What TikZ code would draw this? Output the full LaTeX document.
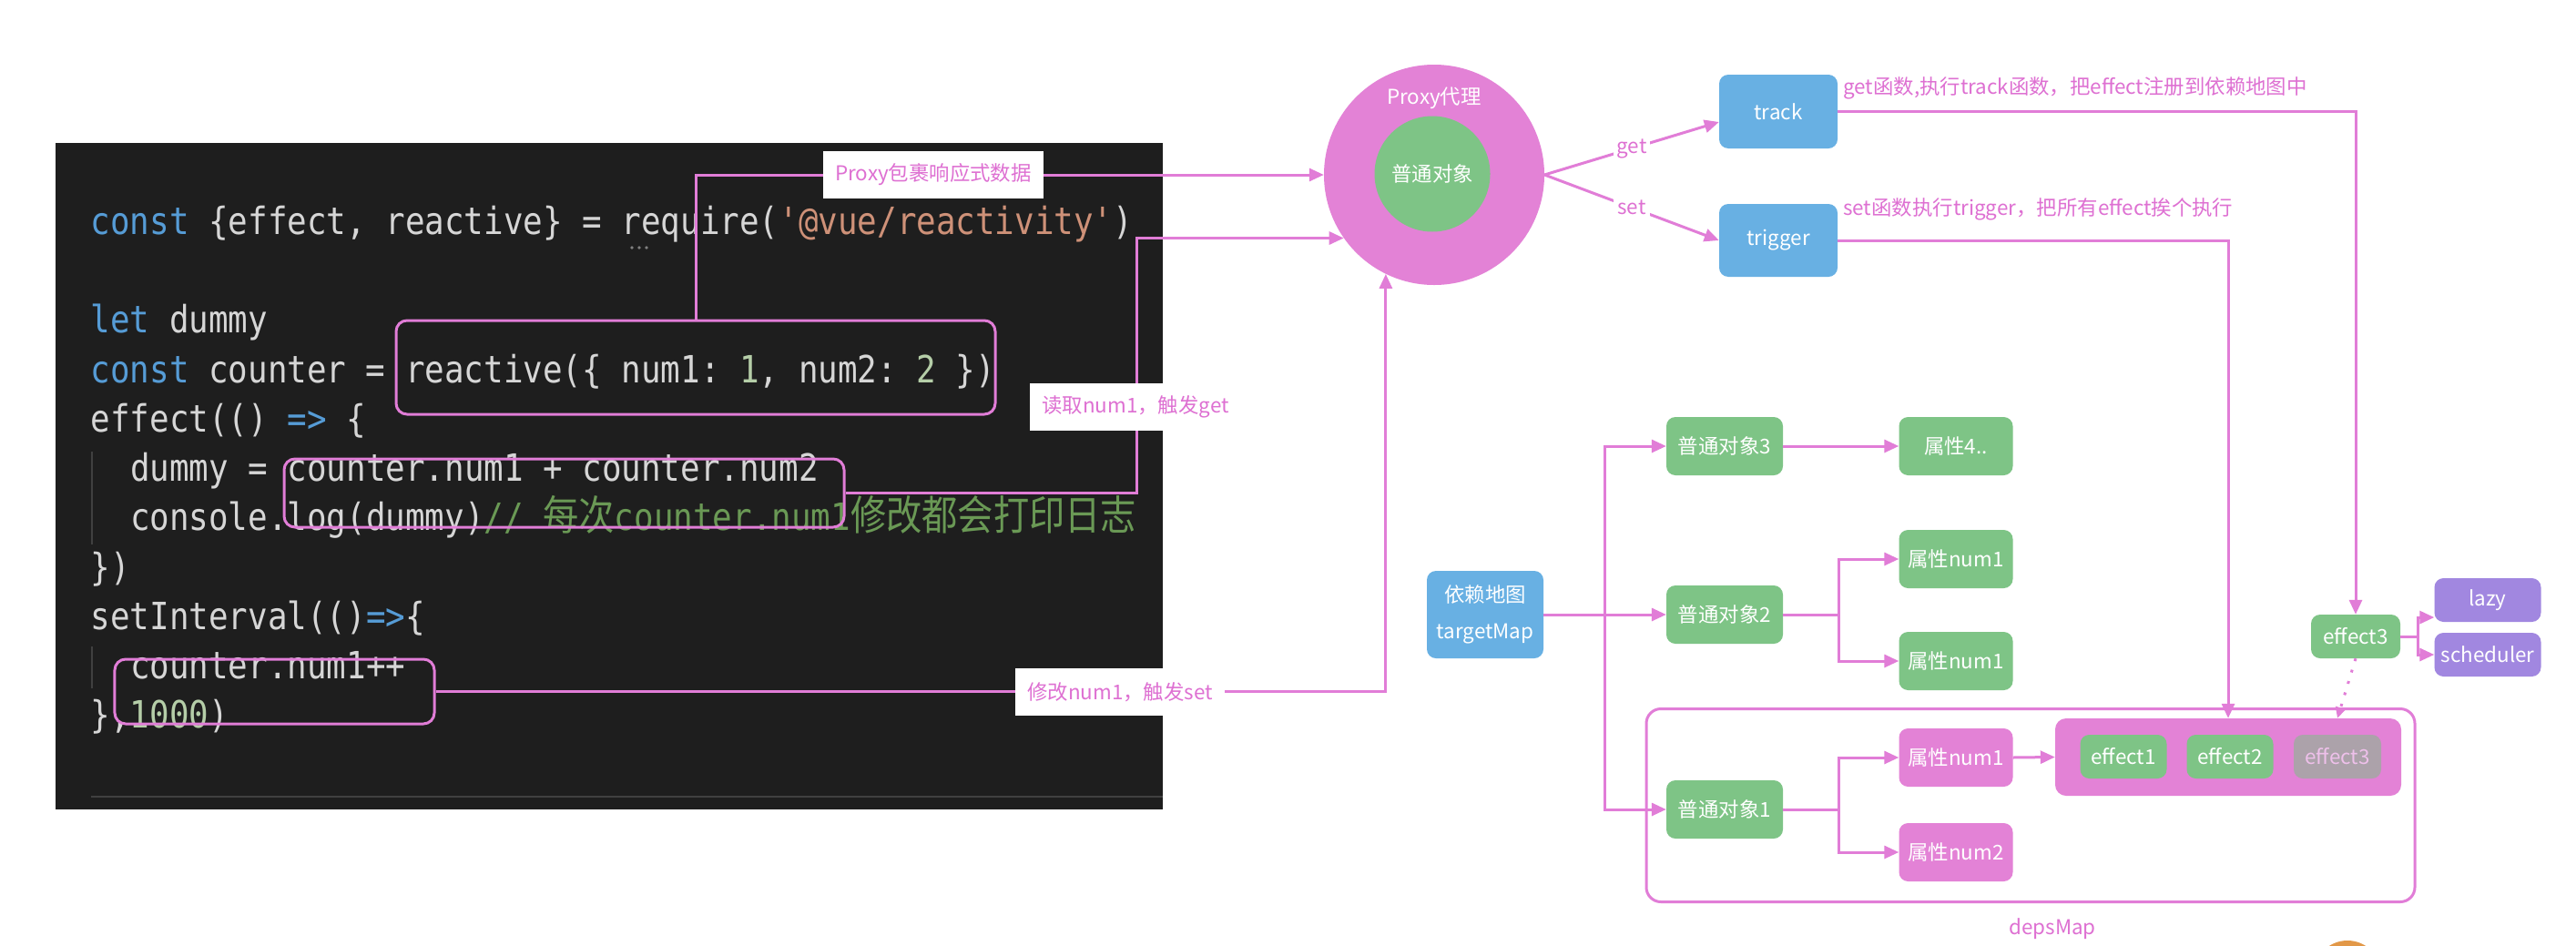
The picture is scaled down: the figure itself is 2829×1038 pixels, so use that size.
\documentclass[tikz,border=0pt]{standalone}
\usepackage{fontspec}
\usepackage{graphicx}
\setmonofont{DejaVu Sans Mono}
\newfontfamily\cjkfam{Noto Sans CJK SC}
\usetikzlibrary{arrows.meta}

% palette
\definecolor{pinkline}{RGB}{225,125,215}
\definecolor{pinktext}{RGB}{222,112,210}
\definecolor{pinkfill}{RGB}{227,130,214}
\definecolor{greenbox}{RGB}{126,196,134}
\definecolor{bluebox}{RGB}{104,176,227}
\definecolor{purplebox}{RGB}{161,135,224}
\definecolor{grayfx}{RGB}{172,162,170}
\definecolor{grayfxtext}{RGB}{238,192,234}
\definecolor{orangedot}{RGB}{226,152,72}
% editor theme
\definecolor{codebg}{RGB}{30,30,30}
\definecolor{kw}{RGB}{86,156,214}
\definecolor{str}{RGB}{206,145,120}
\definecolor{num}{RGB}{181,206,168}
\definecolor{cm}{RGB}{106,153,85}
\definecolor{txt}{RGB}{214,214,214}
\definecolor{guide}{RGB}{64,64,64}

\newcommand\lblfont{\cjkfam\fontsize{22.5}{27}\selectfont}
\newcommand\cjkc{\cjkfam\fontsize{39.4}{40}\selectfont}
\newcommand\tall[1]{\scalebox{1}[1.15]{#1}}

\begin{document}
\begin{tikzpicture}[x=1bp,y=-1bp,
  conn/.style={draw=pinkline, line width=3bp, -{Triangle[length=16bp,width=14bp]}},
  wire/.style={draw=pinkline, line width=3bp},
  hl/.style={draw=pinkline, line width=3bp, rounded corners=12bp, inner sep=0},
  codeline/.style={anchor=base west, inner sep=0, text=txt, font=\fontsize{36}{40}\selectfont\ttfamily},
  box/.style={rounded corners=10bp, inner sep=0, text=white, font=\lblfont, minimum height=64bp, minimum width=128bp},
  gbox/.style={box, fill=greenbox},
  pbox/.style={box, fill=pinkfill},
  tag/.style={fill=white, text=pinktext, font=\lblfont, inner xsep=13bp, minimum height=52bp, inner ysep=0},
  note/.style={text=pinktext, font=\lblfont, inner sep=0, anchor=west},
  lk/.style={fill=white, text=pinktext, font=\lblfont, inner sep=4bp}
]
\useasboundingbox (0,0) rectangle (2829,1038);
\fill[white] (0,0) rectangle (2829,1038);

% ---------------- code editor ----------------
\fill[codebg] (61,157) rectangle (1277,889);
\draw[guide, line width=2bp] (101,496) -- (101,598);
\draw[guide, line width=2bp] (101,710) -- (101,756);
\draw[black!75!white, line width=2bp] (100,875) -- (1277,875);

\node[codeline] (c1) at (99.5,257) {\tall{\textcolor{kw}{const} \{effect, reactive\} = require(\textcolor{str}{'@vue/reactivity'})}};
\node[codeline] (c3) at (99.5,365) {\tall{\textcolor{kw}{let} dummy}};
\node[codeline] (c4) at (99.5,420) {\tall{\textcolor{kw}{const} counter = reactive(\{ num1: \textcolor{num}{1}, num2: \textcolor{num}{2} \})}};
\node[codeline] (c5) at (99.5,474) {\tall{effect(() \textcolor{kw}{=>} \{}};
\node[codeline] (c6) at (142.8,528) {\tall{dummy = counter.num1 + counter.num2}};
\node[codeline] (c7) at (142.8,582) {\tall{console.log(dummy)\textcolor{cm}{// {\cjkc 每次}counter.num1{\cjkc 修改都会打印日志}}}};
\node[codeline] (c8) at (99.5,637) {\tall{\})}};
\node[codeline] (c9) at (99.5,691) {\tall{setInterval(()\textcolor{kw}{=>}\{}};
\node[codeline] (c10) at (142.8,745) {\tall{counter.num1++}};
\node[codeline] (c11) at (99.5,799) {\tall{\},\textcolor{num}{1000})}};
\foreach \dx in {0,8,16} \fill[gray] (694+\dx,272) circle[radius=1.8bp];

% highlighted expressions
\node[hl, minimum width=658bp, minimum height=103bp] (boxA) at (764,403.5) {};
\node[hl, minimum width=615bp, minimum height=75bp] (boxB) at (619.5,541.5) {};
\node[hl, minimum width=351bp, minimum height=71bp] (boxC) at (301.5,759.5) {};

% ---------------- proxy ----------------
\node[circle, fill=pinkfill, minimum size=242bp, inner sep=0] (proxy) at (1575,192) {};
\node[circle, fill=greenbox, minimum size=127bp, inner sep=0, text=white, font=\lblfont] (plain) at (1573,191) {普通对象};
\node[text=white, font=\lblfont, inner sep=0] (proxytitle) at (1575,108) {Proxy代理};

\coordinate (bendB) at (1248,0);
\draw[conn] (boxA.north) |- (proxy.west);
\node[tag] (tagA) at (1025,192) {Proxy包裹响应式数据};
\draw[conn] (boxB.east) -| (proxy.215 -| bendB) -- (proxy.215);
\node[tag] (tagB) at (1247,447) {读取num1，触发get};
\draw[conn] (boxC.east) -| (proxy.244.5);
\node[tag] (tagC) at (1230,760) {修改num1，触发set};

% ---------------- track / trigger ----------------
\node[box, fill=bluebox, minimum width=130bp, minimum height=81bp] (track) at (1953,122.5) {track};
\node[box, fill=bluebox, minimum width=130bp, minimum height=80bp] (trigger) at (1953,264) {trigger};
\draw[conn] (proxy.east) -- node[lk] (getlbl) {get} (track.190);
\draw[conn] (proxy.east) -- node[lk] (setlbl) {set} (trigger.west);
\node[note] (tracknote) at (2024,97) {get函数,执行track函数，把effect注册到依赖地图中};
\node[note] (triggernote) at (2024,230) {set函数执行trigger，把所有effect挨个执行};

% ---------------- dependency map ----------------
\node[box, fill=bluebox, minimum width=128bp, minimum height=96bp, align=center,
      font=\cjkfam\fontsize{22.5}{40}\selectfont] (tmap) at (1631,675) {依赖地图\\targetMap};

\node[gbox] (obj3) at (1894,490) {普通对象3};
\node[gbox] (obj2) at (1894,675) {普通对象2};
\node[gbox] (obj1) at (1894,889) {普通对象1};

\node[gbox, minimum width=125bp] (attr4) at (2148,490) {属性4..};
\node[gbox, minimum width=125bp] (attrA) at (2148,614) {属性num1};
\node[gbox, minimum width=125bp] (attrB) at (2148,726) {属性num1};
\node[pbox, minimum width=125bp] (attrC) at (2148,832) {属性num1};
\node[pbox, minimum width=125bp] (attrD) at (2148,936) {属性num2};

\node[draw=pinkline, line width=3bp, rounded corners=16bp, minimum width=844bp, minimum height=212bp, inner sep=0] (deps) at (2230,884.5) {};
\node[text=pinktext, font=\lblfont, inner sep=0] (depslbl) at (2254,1020) {depsMap};

\node[fill=pinkfill, rounded corners=12bp, minimum width=380bp, minimum height=85bp, inner sep=0] (cont) at (2447,831.5) {};
\node[box, fill=greenbox, minimum width=95bp, minimum height=48bp] (fx1) at (2332,831) {effect1};
\node[box, fill=greenbox, minimum width=95bp, minimum height=48bp] (fx2) at (2449,831) {effect2};
\node[box, fill=grayfx, text=grayfxtext, minimum width=96bp, minimum height=48bp] (fx3g) at (2567,831) {effect3};

\node[box, fill=greenbox, minimum width=98bp, minimum height=48bp] (fx3) at (2587,699) {effect3};
\node[box, fill=purplebox, minimum width=117bp, minimum height=48bp] (lazy) at (2732,659) {lazy};
\node[box, fill=purplebox, minimum width=117bp, minimum height=48bp] (sched) at (2732,719) {scheduler};

% connectors of the map
\coordinate (br) at (1762,675);
\coordinate (br2) at (2019,675);
\coordinate (br1) at (2019,889);
\coordinate (fork) at (2655,699);

\draw[conn] (tmap.east) -- (obj2.west);
\draw[conn] (br) |- (obj3.west);
\draw[conn] (br) |- (obj1.west);
\draw[conn] (obj3.east) -- (attr4.west);
\draw[wire] (obj2.east) -- (br2);
\draw[conn] (br2) |- (attrA.west);
\draw[conn] (br2) |- (attrB.west);
\draw[wire] (obj1.east) -- (br1);
\draw[conn] (br1) |- (attrC.west);
\draw[conn] (br1) |- (attrD.west);
\draw[conn] (attrC.east) -- (cont.west);

\draw[conn] (track.east) -| (fx3.north);
\draw[conn] (trigger.east) -| (cont.north);
\draw[wire] (fx3.east) -- (fork);
\draw[conn] (fork) |- (lazy.198);
\draw[conn] (fork) |- (sched.west);
\draw[draw=pinkline, line width=3bp, dash pattern=on 3bp off 10bp, -{Triangle[length=12bp,width=11bp]}]
  (fx3.south) -- (fx3g.north |- cont.north);

% partial badge at the lower edge
\begin{scope}
  \clip (0,0) rectangle (2829,1038);
  \fill[orangedot] (2578,1070) circle[radius=37bp];
\end{scope}
\end{tikzpicture}
\end{document}
